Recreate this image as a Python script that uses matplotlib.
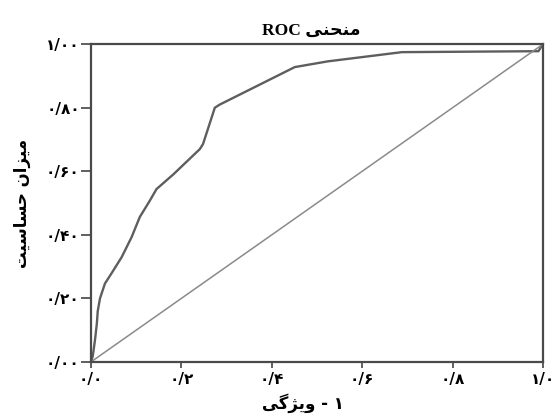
import matplotlib
matplotlib.use("Agg")
import matplotlib.pyplot as plt

# ROC curve points
fpr = [0.0, 0.004, 0.009, 0.013, 0.015, 0.02, 0.031, 0.046, 0.068, 0.09, 0.108,
       0.13, 0.145, 0.182, 0.241, 0.248, 0.274, 0.285, 0.451, 0.524, 0.688, 0.99, 1.0]
tpr = [0.0, 0.018, 0.07, 0.12, 0.16, 0.2, 0.247, 0.28, 0.33, 0.393, 0.456,
       0.507, 0.544, 0.59, 0.67, 0.686, 0.80, 0.81, 0.928, 0.946, 0.975, 0.978, 1.0]

xticks = [0.0, 0.2, 0.4, 0.6, 0.8, 1.0]
xticklabels = ["\u06f0/\u06f0", "\u06f0/\u06f2", "\u06f0/\u06f4", "\u06f0/\u06f6", "\u06f0/\u06f8", "\u06f1/\u06f0"]
yticks = [0.0, 0.2, 0.4, 0.6, 0.8, 1.0]
yticklabels = ["\u06f0/\u06f0\u06f0", "\u06f0/\u06f2\u06f0", "\u06f0/\u06f4\u06f0",
               "\u06f0/\u06f6\u06f0", "\u06f0/\u06f8\u06f0", "\u06f1/\u06f0\u06f0"]

# Persian text, already shaped and in visual (left to right) order, matplotlib has no bidi
title_fa = "\uFEF0\uFEE8\uFEA4\uFEE8\uFEE3"          # منحنی
ylabel_fa = "\uFE96\uFEF4\uFEB3\uFE8E\uFEB4\uFEA3 \uFEE5\uFE8D\uFEB0\uFEF4\uFEE3"  # میزان حساسیت
xlabel_fa = "\uFEF0\uFB94\uFB8B\uFEF3\uFEED - \u06f1"  # ۱ - ویژگی

plt.rcParams['font.family'] = ['DejaVu Sans']

fig = plt.figure(figsize=(5.58, 4.17), dpi=100)
ax = fig.add_axes([0.163, 0.132, 0.81, 0.762])

ax.plot(fpr, tpr, color="#5e5e5e", lw=1.7, solid_joinstyle="miter")
ax.plot([0, 1], [0, 1], color="#8a8a8a", lw=1.1)

ax.set_xlim(0, 1)
ax.set_ylim(0, 1)
ax.set_xticks(xticks)
ax.set_xticklabels(xticklabels, fontsize=11, fontweight="bold")
ax.set_yticks(yticks)
ax.set_yticklabels(yticklabels, fontsize=11, fontweight="bold")
ax.tick_params(axis="x", direction="out", length=4, width=1.2, color="#444444", pad=3)
ax.tick_params(axis="y", direction="out", length=7, width=1.2, color="#444444", pad=1)

for s in ax.spines.values():
    s.set_color("#4a4a4a")
    s.set_linewidth(1.6)

ax.text(0.487, 1.03, "ROC " + title_fa, transform=ax.transAxes, ha="center", va="baseline",
        fontsize=12.5, fontweight="bold", family=["Liberation Serif", "DejaVu Sans"])
ax.set_xlabel(xlabel_fa, fontsize=12, fontweight="bold")
ax.xaxis.set_label_coords(0.47, -0.1)
ax.xaxis.label.set_va("top")
ax.set_ylabel(ylabel_fa, fontsize=12, fontweight="bold")
ax.yaxis.set_label_coords(-0.153, 0.5)
ax.yaxis.label.set_va("center")

fig.savefig("out.png", dpi=100)
